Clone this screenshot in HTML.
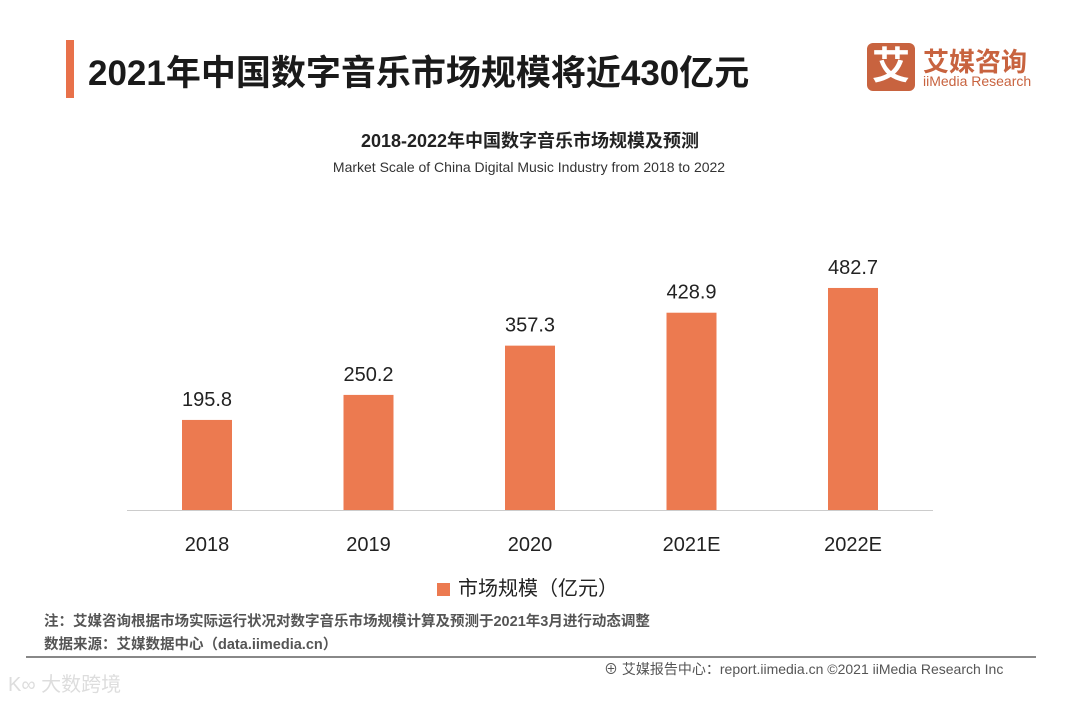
<!DOCTYPE html>
<html><head><meta charset="utf-8"><style>
body{margin:0;width:1080px;height:701px;background:#fff;position:relative;overflow:hidden;font-family:"Liberation Sans","Noto Sans CJK SC",sans-serif;color:#222}
.abs{position:absolute}
</style></head><body>
<div class="abs" style="left:66px;top:40px;width:8px;height:58px;background:#e8714a"></div>
<div class="abs" style="left:88px;top:45px;font-size:35px;font-weight:bold;color:#1a1a1a;white-space:nowrap">2021年中国数字音乐市场规模将近430亿元</div>
<div class="abs" style="left:867px;top:43px;width:48px;height:48px;background:#c8633f;border-radius:6px;color:#fff;font-size:38px;font-weight:bold;text-align:center;line-height:48px">艾</div>
<div class="abs" style="left:923px;top:42px;color:#c8633f;font-size:26px;font-weight:bold;white-space:nowrap">艾媒咨询</div>
<div class="abs" style="left:923px;top:73px;color:#c8633f;font-size:14px;white-space:nowrap">iiMedia Research</div>
<div class="abs" style="left:0;width:1060px;top:127px;text-align:center;font-size:18px;font-weight:bold">2018-2022年中国数字音乐市场规模及预测</div>
<div class="abs" style="left:0;width:1058px;top:159px;text-align:center;font-size:14px;color:#333">Market Scale of China Digital Music Industry from 2018 to 2022</div>
<svg class="abs" style="left:0;top:0" width="1080" height="701" id="chart"></svg>
<div class="abs" style="left:437px;top:572px;font-size:20px;white-space:nowrap"><span style="display:inline-block;width:13px;height:13px;background:#ec7a50;margin-right:8px;vertical-align:-1px"></span>市场规模（亿元）</div>
<div class="abs" style="left:44px;top:610px;font-size:14.5px;color:#555;font-weight:bold;white-space:nowrap">注：艾媒咨询根据市场实际运行状况对数字音乐市场规模计算及预测于2021年3月进行动态调整</div>
<div class="abs" style="left:44px;top:633px;font-size:14.5px;color:#555;font-weight:bold;white-space:nowrap">数据来源：艾媒数据中心（data.iimedia.cn）</div>
<div class="abs" style="left:26px;top:656px;width:1010px;height:2px;background:#888"></div>
<div class="abs" style="left:604px;top:659px;font-size:14px;color:#555;white-space:nowrap">⊕ 艾媒报告中心：report.iimedia.cn ©2021 iiMedia Research Inc</div>
<div class="abs" style="left:8px;top:668px;font-size:20px;color:#ddd;white-space:nowrap">K∞ 大数跨境</div>
<script>
const categories=["2018","2019","2020","2021E","2022E"];
const values=[195.8,250.2,357.3,428.9,482.7];
const labels=["195.8","250.2","357.3","428.9","482.7"];
const svg=document.getElementById('chart');
const NS='http://www.w3.org/2000/svg';
const base=510,scale=0.46,x0=207,step=161.5,bw=50;
const xPos=i=>x0+i*step;
const yPos=v=>base-v*scale;
const ax=document.createElementNS(NS,'line');
ax.setAttribute('x1',127);ax.setAttribute('x2',933);ax.setAttribute('y1',base+0.5);ax.setAttribute('y2',base+0.5);
ax.setAttribute('stroke','#ccc');


svg.appendChild(ax);
values.forEach((v,i)=>{
const r=document.createElementNS(NS,'rect');
r.setAttribute('x',xPos(i)-bw/2);r.setAttribute('y',yPos(v));r.setAttribute('width',bw);r.setAttribute('height',base-yPos(v));r.setAttribute('fill','#ec7a50');


svg.appendChild(r);
const t=document.createElementNS(NS,'text');
t.setAttribute('x',xPos(i));t.setAttribute('y',yPos(v)-14);t.setAttribute('text-anchor','middle');t.setAttribute('font-size','20');t.setAttribute('fill','#222');
t.textContent=labels[i];


svg.appendChild(t);
const c=document.createElementNS(NS,'text');
c.setAttribute('x',xPos(i));c.setAttribute('y',551);c.setAttribute('text-anchor','middle');c.setAttribute('font-size','20');c.setAttribute('fill','#222');
c.textContent=categories[i];


svg.appendChild(c);
});
</script>
</body></html>
